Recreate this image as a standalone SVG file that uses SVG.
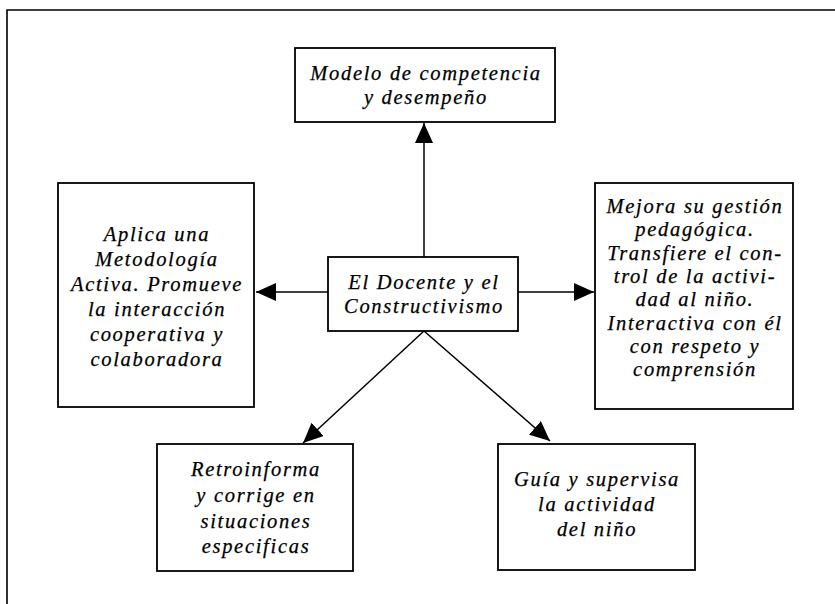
<svg xmlns="http://www.w3.org/2000/svg" width="835" height="604" viewBox="0 0 835 604">
<style>
.frame{fill:none;stroke:#000;stroke-width:1.6}
.box{fill:#fff;stroke:#000;stroke-width:1.8}
.t{font-family:"Liberation Serif","Times New Roman",serif;font-style:italic;font-size:20.5px;letter-spacing:1.7px;text-anchor:middle;fill:#000;stroke:#000;stroke-width:0.25}
.edge{fill:none;stroke:#000;stroke-width:1.5}
</style>
<defs>
<marker id="ah" viewBox="0 0 20 18" markerWidth="20" markerHeight="18" refX="20" refY="9" orient="auto" markerUnits="userSpaceOnUse">
<path d="M0,0 L20,9 L0,18 z" fill="#000"/>
</marker>
</defs>
<rect width="835" height="604" fill="#fff"/>
<path class="frame" d="M7,604 V10 H835"/>
<g id="connectors">
<line class="edge" x1="424" y1="257" x2="424" y2="123" marker-end="url(#ah)"/>
<line class="edge" x1="328" y1="292" x2="256" y2="292" marker-end="url(#ah)"/>
<line class="edge" x1="518" y1="292" x2="594" y2="292" marker-end="url(#ah)"/>
<line class="edge" x1="424" y1="331" x2="303" y2="443" marker-end="url(#ah)"/>
<line class="edge" x1="424" y1="331" x2="550" y2="441" marker-end="url(#ah)"/>
</g>
<g id="modelo">
<rect class="box" x="295" y="48" width="260" height="74"/>
<text class="t" x="426" y="80">Modelo de competencia</text>
<text class="t" x="426" y="104">y desempeño</text>
</g>
<g id="docente">
<rect class="box" x="328" y="257" width="190" height="74"/>
<text class="t" x="424" y="289">El Docente y el</text>
<text class="t" x="424" y="313">Constructivismo</text>
</g>
<g id="aplica">
<rect class="box" x="58" y="183" width="196" height="224"/>
<text class="t" x="157" y="241">Aplica una</text>
<text class="t" x="157" y="266">Metodología</text>
<text class="t" x="157" y="291">Activa. Promueve</text>
<text class="t" x="157" y="316">la interacción</text>
<text class="t" x="157" y="341">cooperativa y</text>
<text class="t" x="157" y="366">colaboradora</text>
</g>
<g id="mejora">
<rect class="box" x="595" y="183" width="198" height="226"/>
<text class="t" x="695" y="213">Mejora su gestión</text>
<text class="t" x="695" y="236">pedagógica.</text>
<text class="t" x="695" y="260">Transfiere el con-</text>
<text class="t" x="695" y="283">trol de la activi-</text>
<text class="t" x="695" y="306">dad al niño.</text>
<text class="t" x="695" y="330">Interactiva con él</text>
<text class="t" x="695" y="353">con respeto y</text>
<text class="t" x="695" y="376">comprensión</text>
</g>
<g id="retroinforma">
<rect class="box" x="157" y="444" width="196" height="127"/>
<text class="t" x="256" y="476">Retroinforma</text>
<text class="t" x="256" y="502">y corrige en</text>
<text class="t" x="256" y="528">situaciones</text>
<text class="t" x="256" y="553">especificas</text>
</g>
<g id="guia">
<rect class="box" x="498" y="444" width="197" height="126"/>
<text class="t" x="597" y="486">Guía y supervisa</text>
<text class="t" x="597" y="511">la actividad</text>
<text class="t" x="597" y="536">del niño</text>
</g>
</svg>
